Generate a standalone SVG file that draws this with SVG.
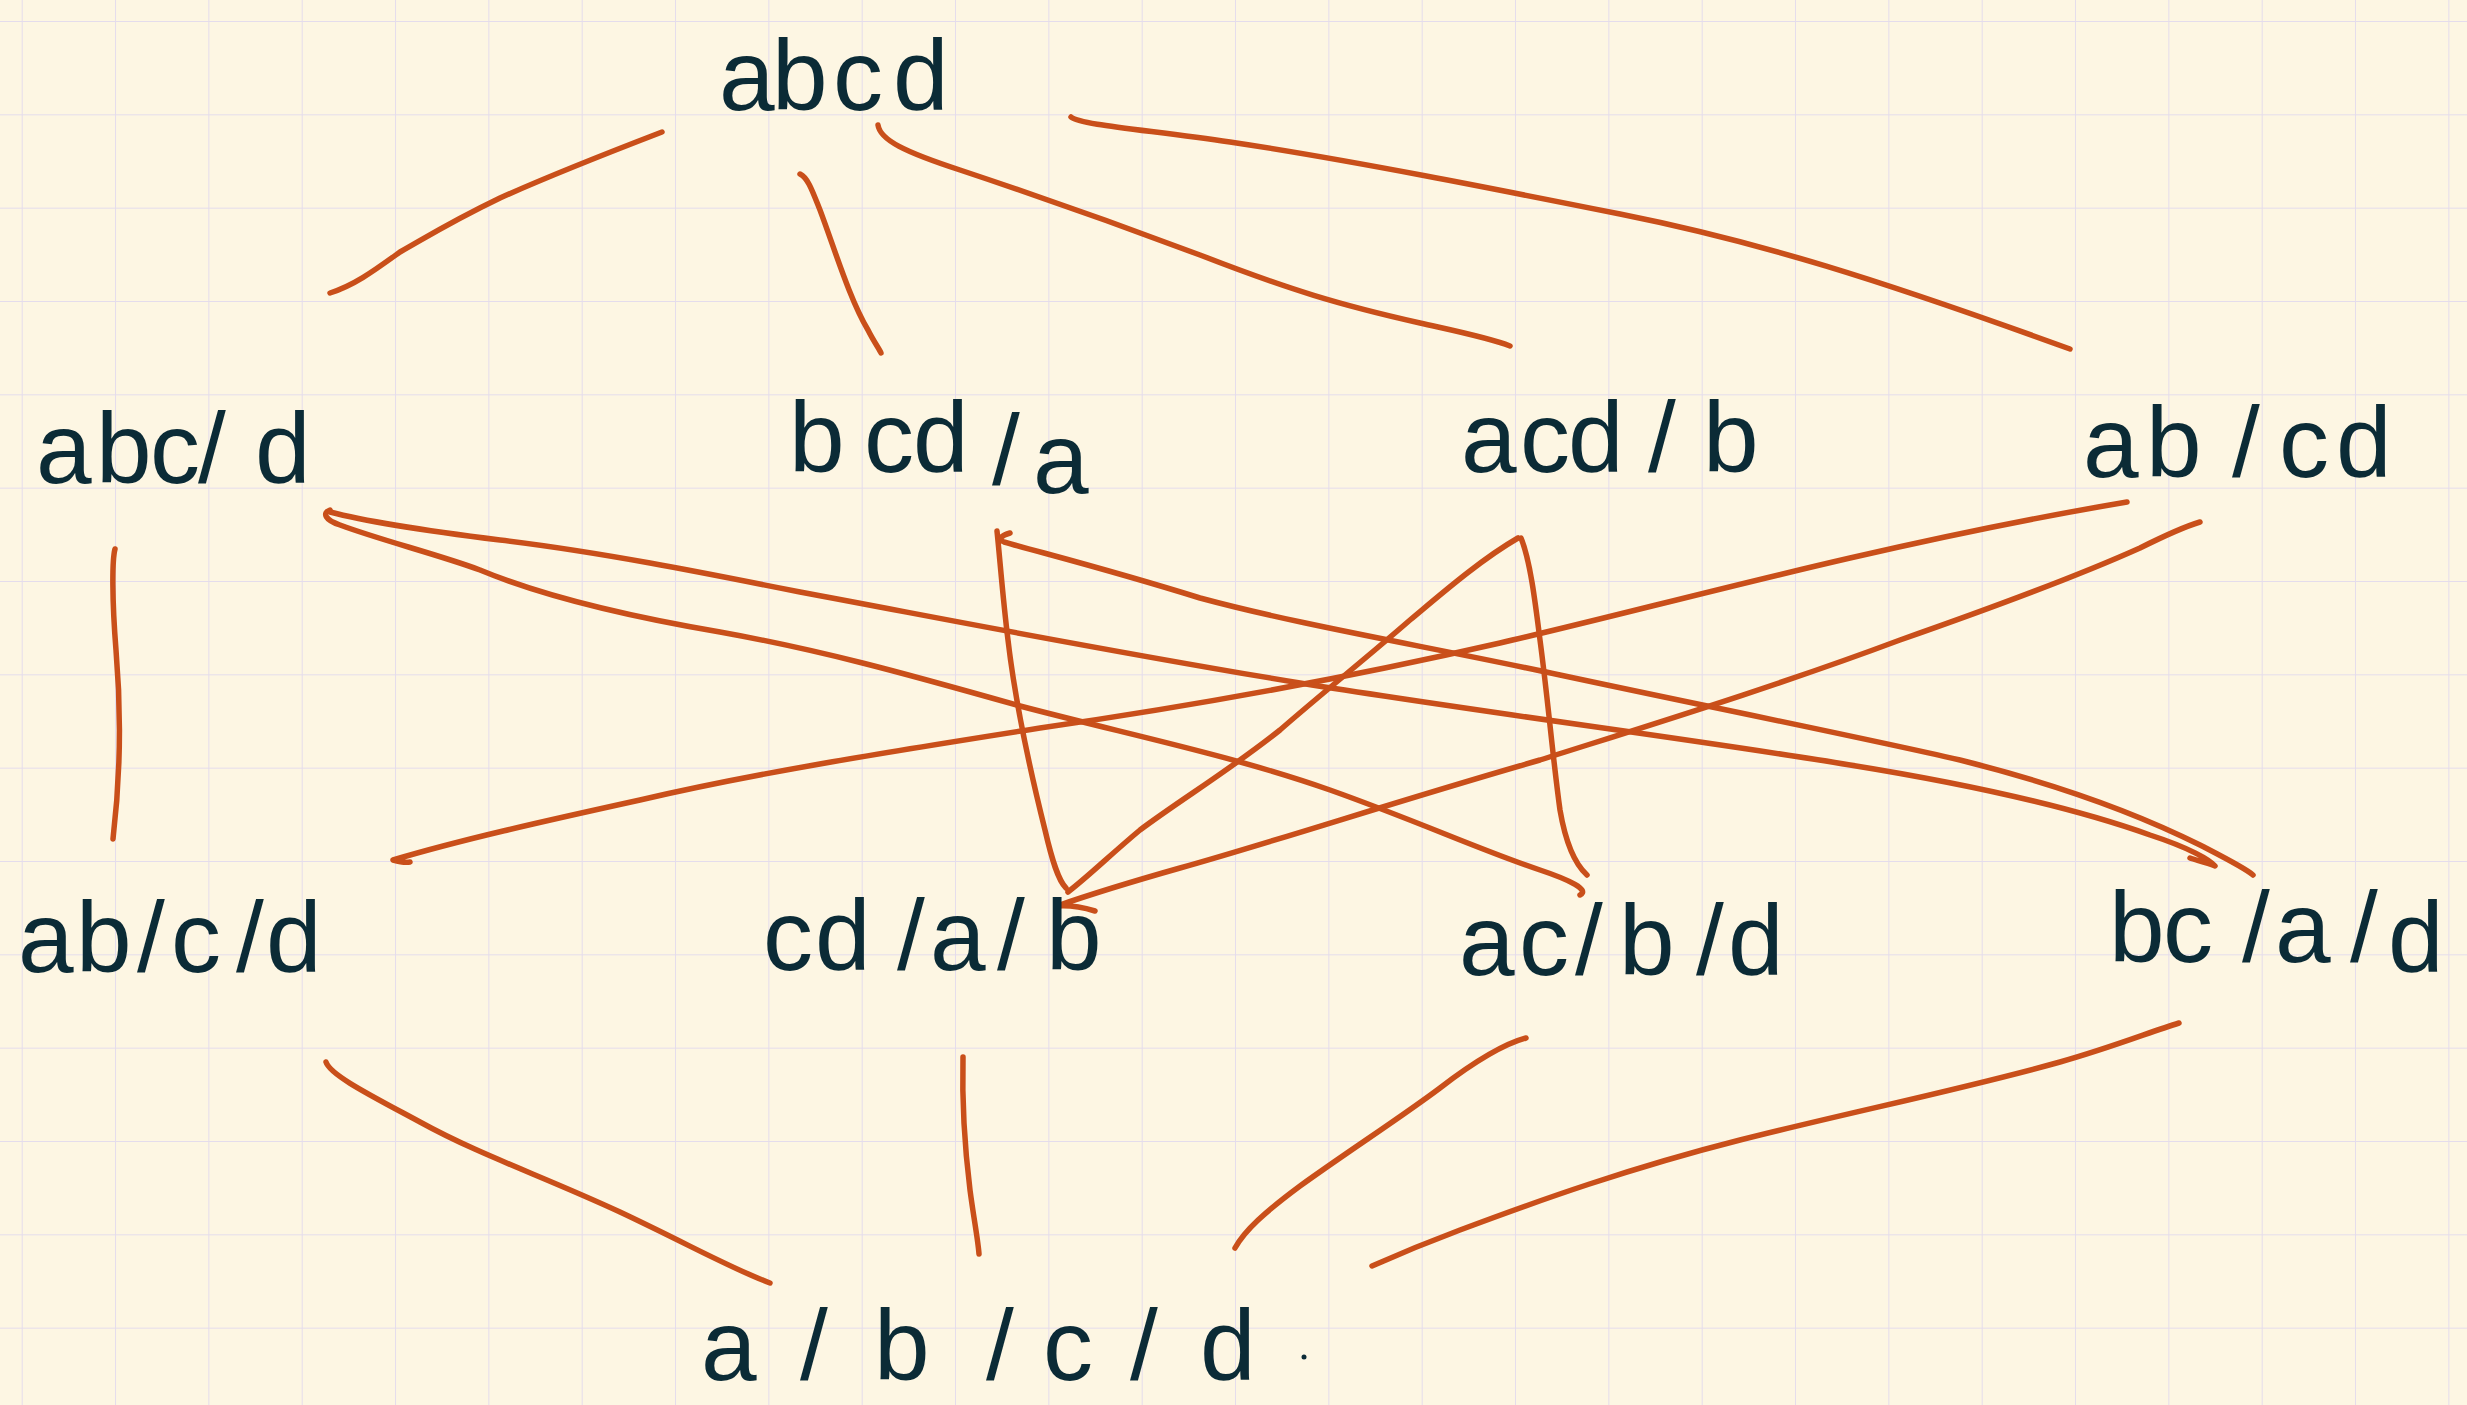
<svg xmlns="http://www.w3.org/2000/svg" width="2467" height="1405" viewBox="0 0 2467 1405">
<defs>
<pattern id="grid" x="21.7" y="21" width="93.333" height="93.333" patternUnits="userSpaceOnUse">
<path d="M0,0 H93.333 M0,0 V93.333" fill="none" stroke="#e4dcec" stroke-width="2"/>
</pattern>
</defs>
<style>
.lbl{font-family:"Liberation Sans","DejaVu Sans",sans-serif;font-size:100px;fill:#0b2b36}
.edge{fill:none;stroke:#c94f1a;stroke-width:5.5;stroke-linecap:round;stroke-linejoin:round}
</style>
<rect width="2467" height="1405" fill="#fdf6e3"/>
<rect width="2467" height="1405" fill="url(#grid)"/>

<g id="connectors">
<path class="edge" d="M662,132 C610,152 540,180 500,198 C450,222 425,238 400,252 C375,270 355,285 330,293"/>
<path class="edge" d="M800,174 C808,178 812,190 820,210 C835,250 850,300 868,330 C874,342 880,350 881,353"/>
<path class="edge" d="M878,125 C880,140 905,152 960,170 C1050,200 1120,225 1200,255 C1290,290 1340,305 1420,323 C1460,332 1490,338 1510,346"/>
<path class="edge" d="M1071,117 C1080,125 1150,130 1230,142 C1350,160 1500,190 1620,214 C1760,242 1880,280 2070,349"/>
<path class="edge" d="M115,549 C112,560 112,600 116,650 C122,720 120,780 113,839"/>
<path class="edge" d="M330,510 C322,513 325,520 340,525 C380,540 440,555 480,570 C540,595 620,615 720,632 C820,650 900,672 1020,706 C1130,735 1230,755 1330,790 C1420,822 1480,850 1540,870 C1570,880 1590,890 1580,895"/>
<path class="edge" d="M330,512 C360,520 420,530 500,540 C600,552 700,572 800,592 C950,620 1100,650 1300,683 C1500,715 1700,740 1850,765 C1980,786 2080,810 2150,835 C2190,848 2210,860 2215,866 C2205,862 2195,860 2190,858"/>
<path class="edge" d="M997,531 C1000,560 1003,600 1008,640 C1015,700 1030,770 1045,830 C1052,860 1058,880 1066,888"/>
<path class="edge" d="M1010,533 C1000,536 998,540 1004,542 C1050,555 1110,570 1200,598 C1300,625 1420,645 1560,675 C1700,705 1850,735 1960,760 C2060,785 2140,815 2200,845 C2225,858 2245,868 2253,875"/>
<path class="edge" d="M1518,538 C1480,560 1440,595 1410,620 C1370,655 1320,695 1280,730 C1230,770 1180,800 1140,830 C1110,855 1090,875 1068,892"/>
<path class="edge" d="M1521,538 C1530,560 1535,600 1540,640 C1548,700 1553,760 1560,810 C1566,845 1576,865 1587,875"/>
<path class="edge" d="M2127,502 C2050,515 1950,535 1850,558 C1720,588 1600,620 1500,643 C1360,675 1200,705 1040,728 C900,750 760,772 640,800 C540,822 460,840 393,860 C400,862 405,863 410,862"/>
<path class="edge" d="M2200,522 C2180,528 2160,538 2140,548 C2080,575 2000,605 1900,640 C1780,685 1650,725 1540,760 C1400,800 1280,840 1180,868 C1120,885 1080,898 1057,906 C1070,905 1085,908 1095,911"/>
<path class="edge" d="M326,1062 C330,1075 370,1095 420,1122 C480,1155 540,1175 620,1212 C690,1245 730,1268 770,1283"/>
<path class="edge" d="M963,1057 C962,1100 965,1150 970,1190 C974,1220 978,1240 979,1254"/>
<path class="edge" d="M1526,1038 C1500,1045 1470,1065 1440,1088 C1400,1118 1350,1150 1300,1186 C1265,1212 1245,1230 1235,1248"/>
<path class="edge" d="M2179,1023 C2150,1032 2110,1048 2060,1062 C1960,1090 1850,1112 1740,1140 C1630,1168 1540,1200 1460,1230 C1420,1245 1390,1258 1372,1266"/>
</g>

<g id="n-abcd"><text class="lbl" x="719 772 833 893" y="110">abcd</text></g>
<g id="n-abc-d"><text class="lbl" x="36 96 150 198 255" y="483">abc/d</text></g>
<g id="n-bcd-a"><text class="lbl" x="789 864 913 992 1033" y="472 472 472 485 493">bcd/a</text></g>
<g id="n-acd-b"><text class="lbl" x="1461 1520 1568 1648 1703" y="472">acd/b</text></g>
<g id="n-ab-cd"><text class="lbl" x="2083 2146 2232 2279 2336" y="477">ab/cd</text></g>
<g id="n-ab-c-d"><text class="lbl" x="18 76 137 171 236 266" y="972">ab/c/d</text></g>
<g id="n-cd-a-b"><text class="lbl" x="763 815 897 930 997 1046" y="970">cd/a/b</text></g>
<g id="n-ac-b-d"><text class="lbl" x="1459 1519 1575 1619 1696 1728" y="975">ac/b/d</text></g>
<g id="n-bc-a-d"><text class="lbl" x="2109 2163 2242 2275 2350 2388" y="962 962 962 962 962 972">bc/a/d</text></g>
<g id="n-a-b-c-d"><text class="lbl" x="701 800 874 986 1043 1130 1200" y="1380">a/b/c/d</text><circle cx="1304" cy="1357" r="2.5" fill="#0b2b36"/></g>
</svg>
